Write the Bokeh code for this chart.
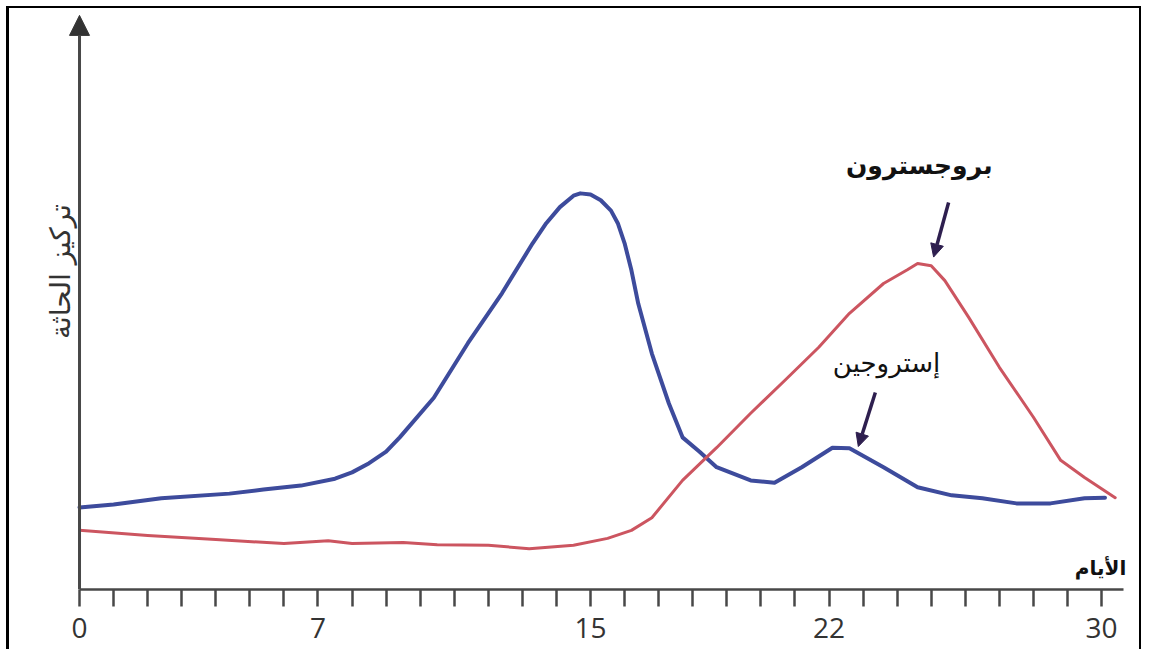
import math
from bokeh.plotting import figure
from bokeh.models import FixedTicker, Range1d, Arrow, NormalHead
from bokeh.core.properties import value
from bokeh.embed import file_html
from bokeh.resources import INLINE

# ---------------- data (arbitrary concentration units, 0-100) ----------------
estrogen_day = [0, 1, 2.4, 4.4, 5.4, 6.5, 7.5, 8.0, 8.5, 9.0, 9.4, 10.4, 11.4, 12.4, 13.3,
                13.7, 14.1, 14.5, 14.7, 15.0, 15.3, 15.6, 15.8, 16.0, 16.2, 16.4, 16.8,
                17.3, 17.7, 18.2, 18.7, 19.7, 20.4, 21.2, 22.1, 22.6, 23.6, 24.6, 25.6,
                26.5, 27.5, 28.5, 29.5, 30.1]
estrogen_level = [14.3, 14.8, 15.9, 16.7, 17.4, 18.1, 19.3, 20.4, 22.0, 24.0, 26.5, 33.4,
                  42.9, 51.6, 60.3, 63.8, 66.6, 68.6, 69.0, 68.8, 67.8, 66.0, 63.8, 60.3,
                  55.6, 49.8, 41.1, 32.4, 26.5, 24.0, 21.3, 19.0, 18.6, 21.3, 24.7, 24.6,
                  21.3, 17.8, 16.4, 15.9, 15.0, 15.0, 15.9, 16.0]

progesterone_day = [0, 2, 4, 6, 7.3, 8, 9.5, 10.5, 12, 13.2, 14.5, 15.5, 16.2, 16.8, 17.7,
                    18.7, 19.7, 20.7, 21.7, 22.6, 23.6, 24.3, 24.6, 25.0, 25.4, 26.1, 27.0,
                    28.0, 28.8, 29.5, 30.4]
progesterone_level = [10.3, 9.4, 8.7, 8.0, 8.5, 8.0, 8.2, 7.8, 7.7, 7.1, 7.7, 8.9, 10.3,
                      12.5, 19.0, 24.7, 30.7, 36.4, 42.2, 48.1, 53.3, 55.7, 56.8, 56.4,
                      53.8, 47.4, 38.7, 30.0, 22.5, 19.5, 16.0]

tick_days = list(range(0, 31))
labelled_days = [0, 7, 15, 22, 30]

x_label = "الأيام"
y_label = "تركيز الحاثة"
progesterone_name = "بروجسترون"
estrogen_name = "إستروجين"

# ---------------- figure ----------------
p = figure(width=1135, height=643, output_backend="svg", toolbar_location=None,
           x_range=Range1d(-2.055, 31.26), y_range=Range1d(0, 101.2),
           y_axis_location=None,
           min_border_left=0, min_border_right=0, min_border_top=0,
           min_border_bottom=62)
p.styles = {"margin-left": "6px", "margin-top": "6px",
            "border-left": "3px solid black", "border-top": "2px solid black",
            "border-right": "2px solid black"}
p.outline_line_color = None
p.grid.visible = False
p.background_fill_color = "white"
p.border_fill_color = "white"

axis_color = "#484848"

# x axis: a tick every day, numbers on selected days
xa = p.xaxis[0]
xa.bounds = (0, 30.64)
xa.ticker = FixedTicker(ticks=tick_days)
xa.major_label_overrides = {d: (str(d) if d in labelled_days else "") for d in tick_days}
xa.axis_line_color = axis_color
xa.axis_line_width = 2.5
xa.major_tick_line_color = axis_color
xa.major_tick_line_width = 2.5
xa.major_tick_in = 0
xa.major_tick_out = 17
xa.minor_tick_line_color = None
xa.major_label_standoff = 11
xa.major_label_text_font = "Open Sans"
xa.major_label_text_font_size = "28px"
xa.major_label_text_color = "#333333"

# y axis (arrow at day 0) and its title
p.add_layout(Arrow(end=NormalHead(size=20, fill_color="#333333", line_color="#333333"),
                   x_start=0, y_start=0, x_end=0, y_end=100,
                   line_color=axis_color, line_width=3))
p.text(x=[-0.56], y=[55.4], text=[y_label], angle=math.pi / 2,
       text_font=value("DejaVu Sans"), text_font_size="28px", text_align="center",
       text_baseline="middle", text_color="#333333")

# curves
p.line(estrogen_day, estrogen_level, line_color="#3d4b9c", line_width=4,
       line_join="round", line_cap="round")
p.line(progesterone_day, progesterone_level, line_color="#cc5560", line_width=3,
       line_join="round", line_cap="round")

# labels
p.text(x=[24.65], y=[73.9], text=[progesterone_name], text_font=value("DejaVu Sans"),
       text_font_style="bold", text_font_size="25px", text_align="center",
       text_baseline="middle", text_color="#111111")
p.text(x=[23.69], y=[39.5], text=[estrogen_name], text_font=value("DejaVu Sans"),
       text_font_size="26px", text_align="center", text_baseline="middle",
       text_color="#111111")
p.text(x=[29.97], y=[3.7], text=[x_label], text_font=value("DejaVu Sans"),
       text_font_style="bold", text_font_size="20px", text_align="center",
       text_baseline="middle", text_color="#111111")

pointer = "#2e1f4f"
p.add_layout(Arrow(end=NormalHead(size=13, fill_color=pointer, line_color=pointer),
                   x_start=25.51, y_start=67.4, x_end=25.07, y_end=57.9,
                   line_color=pointer, line_width=3.5))
p.add_layout(Arrow(end=NormalHead(size=13, fill_color=pointer, line_color=pointer),
                   x_start=23.36, y_start=34.3, x_end=22.86, y_end=24.9,
                   line_color=pointer, line_width=3.5))

open("out.html", "w").write(file_html(p, INLINE))
